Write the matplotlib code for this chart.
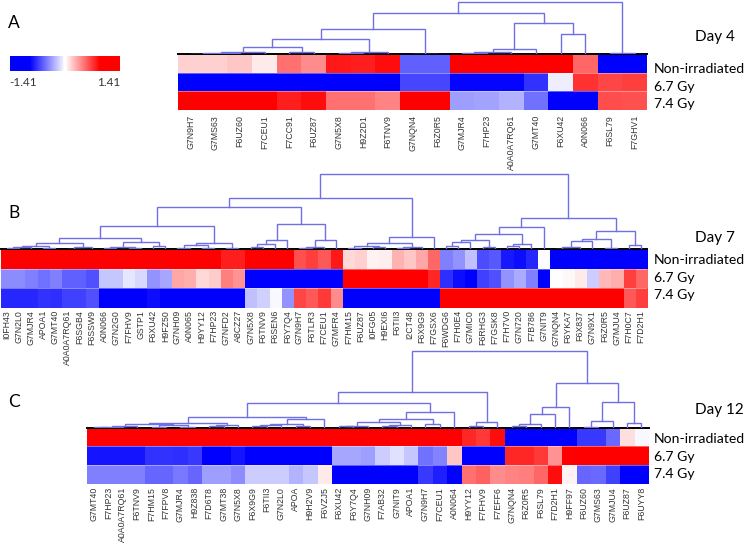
import numpy as np
import matplotlib
matplotlib.use('Agg')
import matplotlib.pyplot as plt

W, H = 745, 544
LINE = '#6f6fe6'
o = None  # leaf of a dendrogram

# Day 4
a_cols = ['G7N9H7', 'G7MS63', 'F6UZ60', 'F7CEU1', 'F7CC91', 'F6UZ87', 'G7N5X8', 'H9Z2D1', 'F6TNV9', 'G7NQN4',
          'F6Z0R5', 'G7MJR4', 'F7HP23', 'A0A0A7RQ61', 'G7MT40', 'F6XU42', 'A0N066', 'F6SL79', 'F7GHV1']
a_non = [.18, .18, .22, .08, .55, .45, .9, .88, .95, -.62, -.62, 1, 1, 1, 1, 1, .6, -1, -1]
a_67 = [-1, -1, -1, -1, -1, -1, -1, -1, -1, -.72, -.72, -.98, -.98, -.98, -.8, -.07, .8, .72, .75]
a_74 = [1, 1, 1, 1, .88, .95, .55, .55, .48, 1, 1, -.38, -.36, -.3, -.55, -1, -1, .7, .68]
a_tree = (52.7,
          (41,
           (25.3,
            (15.7,
             (7.7, (2.7, (1.7, (.5, o, o), o), o), (2.7, o, o)),
             (2.3, (1, o, o), o)),
            (.4, o, o)),
           (31.7,
            (5.3, (2.7, (1.3, o, o), o), o),
            (20.7, o, o))),
          (1.3, o, o))

# Day 7
b_cols = ['I0FH43', 'G7N2L0', 'G7MJR4', 'APOA1', 'G7MT40', 'A0A0A7RQ61', 'F6SGB4', 'F6SSW9', 'A0N066', 'G7N2G0',
          'F7FHV9', 'GSTP1', 'F6XU42', 'H9FZ50', 'G7NH09', 'A0N065', 'H9YY12', 'F7HP23', 'G7NFD2', 'A8CZ27',
          'G7N5X8', 'F6TNV9', 'F6SEN6', 'F6Y7Q4', 'G7N9H7', 'F6TLR3', 'F7CEU1', 'G7MFR4', 'F7HM15', 'F6UZ87',
          'I0FG05', 'H9EXI6', 'F6TII3', 'I2CT48', 'F6X9G9', 'F7GSX6', 'F6WDG6', 'F7H0E4', 'G7MIC0', 'F6RHG3',
          'F7GSK8', 'F7H7V0', 'G7N720', 'F7B786', 'G7NIT9', 'G7NQN4', 'F6YKA7', 'F6X837', 'G7N9X1', 'F6Z0R5',
          'G7MJU4', 'F7H0C7', 'F7D2H1']
b_non = [1, 1, 1, 1, 1, 1, 1, 1, 1, 1, 1, 1, 1, 1, 1, 1, 1, 1, .88, .88, 1, 1, 1, 1, .68, .75, .65, .9,
         .15, .18, .05, .07, .3, .22, .35, .6, -.5, -.42, -.25, -.7, -.65, -.9, -.95, -.85, 0,
         -1, -1, -1, -1, -1, -1, -1, -1]
b_67 = [-.45, -.45, -.5, -.55, -.5, -.62, -.62, -.68, -.22, -.22, -.1, -.15, -.42, -.35, .35, .32, .15, .2, .5, .42,
        -1, -1, -1, -1, -1, -1, -1, -1, 1, 1, 1, 1, 1, 1, 1, .85, -.82, -.95, -1, -.75, -.68, -.42, -.33, -.5, -1,
        0, .03, .08, -.2, .28, .32, .75, .6]
b_74 = [-.85, -.85, -.85, -.8, -.82, -.75, -.75, -.68, -1, -1, -1, -1, -.95, -1, -1, -1, -1, -1, -1, -1,
        -.25, -.18, -.03, -.42, .72, .65, .78, .45, -1, -1, -1, -1, -1, -1, -1, -1,
        1, 1, 1, 1, 1, 1, 1, 1, 1, 1, 1, 1, 1, 1, 1, .65, .75]
b_tree = (75.3,
          (51,
           (42,
            (23.3,
             (11,
              (6, (3, (2, (1, o, o), o), (1, o, o)), (2.3, (.7, o, o), o)),
              (7.3, (2.3, (1.3, o, o), (1.3, o, o)), (3.3, o, o))),
             (6.7, (4.7, (1, o, o), (1.7, o, o)), (1, o, o))),
            (25.3,
             (9, (5.3, (2, o, o), o), o),
             (9, (2.3, (1.7, o, o), o), o))),
           (12,
            (6, (3, (1.3, o, o), (2, o, o)), (2.7, (1.7, o, o), o)),
            o)),
          (31.7,
           (22,
            (15.3,
             (9.7, (7.3, (3.3, o, o), o), (2, o, o)),
             (5, (3.3, o, o), o)),
            o),
           (18.7,
            (10, (8, (2, (.7, o, o), o), o), (1.7, o, o)),
            (4.7, o, o))))

# Day 12
c_cols = ['G7MT40', 'F7HP23', 'A0A0A7RQ61', 'F6TNV9', 'F7HM15', 'F7FPV8', 'G7MJR4', 'H9Z838', 'F7D6T8', 'G7MT38',
          'G7N5X8', 'F6X9G9', 'F6TII3', 'G7N2L0', 'APOA', 'H9H2V9', 'F6VZJ5', 'F6XU42', 'F6Y7Q4', 'G7NH09',
          'F7AB32', 'G7NIT9', 'APOA1', 'G7N9H7', 'F7CEU1', 'A0N064', 'H9YY12', 'F7FHV9', 'F7EFF6', 'G7NQN4',
          'F6Z0R5', 'F6SL79', 'F7D2H1', 'H9FF97', 'F6UZ60', 'G7MS63', 'G7MJU4', 'F6UZ87', 'F6UYY8']
c_non = [1, 1, 1, 1, 1, 1, 1, 1, 1, 1, 1, 1, 1, 1, 1, 1, 1, 1, 1, 1, 1, 1, 1, 1, 1, 1, .85, .78, .95,
         -1, -1, -1, -1, -1, -.78, -.78, -.58, .13, -.03]
c_67 = [-.92, -.92, -.92, -.92, -.8, -.8, -.82, -.78, -1, -1, -.92, -1, -1, -1, -1, -1, -1,
        -.35, -.35, -.38, -.2, -.12, -.22, -.55, -.48, .22, -1, -1, -1, .85, .85, .78, .42, 1, 1, 1, 1, 1, 1]
c_74 = [-.5, -.5, -.5, -.5, -.6, -.6, -.52, -.6, -.38, -.38, -.45, -.2, -.2, -.2, -.3, -.22, .08,
        -1, -1, -1, -1, -1, -1, -.78, -.88, -1, .55, .62, .45, .48, .5, .6, .95, .05, -.6, -.58, -.75, -1, -1]
c_tree = (77,
          (36,
           (24.3,
            (11,
             (5,
              (3.3, (1.3, (1, (.7, o, o), o), o), (2.3, (1, o, o), (1, o, o))),
              (2.3, (1.3, o, o), o)),
             (8.7,
              (3.7, (2.7, (1.3, o, o), o), (2, o, o)),
              o)),
            (16,
             (8.7,
              (5.3, (2, (1.7, o, o), o), (2.3, (1.3, o, o), o)),
              (3.3, o, o)),
             o)),
           (5.3, (2, o, o), o)),
          (45,
           (20.3,
            (13.7, (3.7, (2, o, o), o), o),
            o),
           (25.3,
            (6.3, (1, o, o), o),
            (4.3, o, o))))

row_names = ['Non-irradiated', '6.7 Gy', '7.4 Gy']


def px_axes(x0, y0, x1, y1):
    return fig.add_axes([x0 / W, 1 - y1 / H, (x1 - x0) / W, (y1 - y0) / H])


def px_text(x, y, s, **kw):
    fig.text(x / W, 1 - y / H, s, **kw)


def draw_tree(ax, node, leaves):
    # returns x, height of the node; leaves are numbered as they are met
    if node is None:
        x = next(leaves)
        return x, 0
    h, left, right = node
    x1, h1 = draw_tree(ax, left, leaves)
    x2, h2 = draw_tree(ax, right, leaves)
    ax.plot([x1, x1, x2, x2], [h1, h, h, h2], color=LINE, lw=1.0, solid_joinstyle='miter')
    return (x1 + x2) / 2, h


def panel(box, rows, cols, tree, pad):
    x0, y0, x1, y1 = box
    ax = px_axes(x0, y0, x1, y1)
    data = np.array(rows)
    ax.imshow(data, cmap='bwr', vmin=-1, vmax=1, aspect='auto', interpolation='nearest')
    ax.set_xticks(range(len(cols)))
    ax.set_xticklabels(cols, rotation=90, fontsize=6.3, color='#333333', family='Liberation Sans')
    ax.set_yticks([])
    ax.tick_params(axis='x', length=0, pad=pad)
    for name, sp in ax.spines.items():
        sp.set_visible(name == 'top')
    ax.spines['top'].set_linewidth(1.4)
    for r in [0.5, 1.5]:
        ax.axhline(r, color='white', lw=0.6, alpha=0.45)

    top = tree[0] + 1
    dax = px_axes(x0, y0 - top, x1, y0)
    draw_tree(dax, tree, iter(range(len(cols))))
    dax.set_xlim(-0.5, len(cols) - 0.5)
    dax.set_ylim(0, top)
    dax.axis('off')


fig = plt.figure(figsize=(W / 100, H / 100), dpi=100, facecolor='white')

panel((178.3, 54.3, 647, 110), [a_non, a_67, a_74], a_cols, a_tree, 3.6)
panel((0.5, 249.3, 647.3, 308), [b_non, b_67, b_74], b_cols, b_tree, 1.5)
panel((86.7, 427.7, 648.7, 484), [c_non, c_67, c_74], c_cols, c_tree, 2.2)

# colour key
key = np.clip(np.linspace(-1.56, 1.56, 256), -1, 1)
key[np.abs(key) < 0.05] = 0
kax = px_axes(9.5, 56, 119, 70.7)
kax.imshow(key[np.newaxis, :], cmap='bwr', vmin=-1, vmax=1, aspect='auto')
kax.axis('off')
px_text(9, 83, '-1.41', fontsize=8.5, family='Lato', color='#333333', va='center')
px_text(120, 83, '1.41', fontsize=8.5, family='Lato', color='#333333', va='center', ha='right')

for y, s in [(23, 'A'), (213, 'B'), (402, 'C')]:
    px_text(8, y, s, fontsize=12.5, family='Lato', color='black', va='center')
for y, s in [(37, 'Day 4'), (238, 'Day 7'), (410, 'Day 12')]:
    px_text(695, y, s, fontsize=11, family='Lato', color='black', va='center')
for ys in [(69, 87, 104), (260, 278, 295), (439, 457, 474)]:
    for y, s in zip(ys, row_names):
        px_text(654, y, s, fontsize=10.1, family='Lato', color='black', va='center')

fig.savefig('out.png', dpi=100)
